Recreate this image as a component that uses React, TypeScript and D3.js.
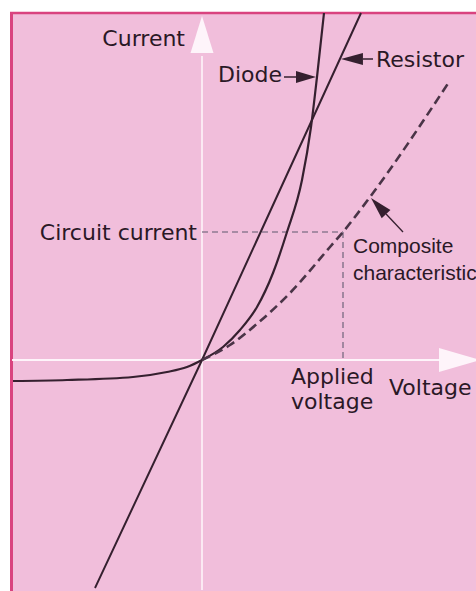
import React, { Component } from 'react';
import * as d3 from 'd3';

// readings, 1 unit = one small step of voltage / current
const diodeV = [-4.725, -3.375, -1.725, -0.875, -0.375, 0, 0.525, 0.95, 1.375, 1.775, 2.125, 2.5, 2.725, 2.875, 3.05];
const diodeI = [-0.525, -0.5, -0.425, -0.3, -0.175, 0, 0.325, 0.75, 1.325, 2.175, 3.2, 4.5, 5.825, 7.075, 8.675];

const resistorV = [-2.675, 0, 3.975];
const resistorI = [-5.7, 0, 8.675];

const compositeV = [0, 0.7, 1.4, 2.2, 3.2, 3.525, 4.2, 6.175];
const compositeI = [0, 0.375, 0.925, 1.675, 2.825, 3.2, 4.075, 6.95];

// operating point
const opV = 3.525;
const opI = 3.2;

const W = 476, H = 591;

class App extends Component {
    svgRef = React.createRef<SVGSVGElement>();

    componentDidMount() {
        this.drawChart();
    }

    drawChart() {
        var svg = d3.select(this.svgRef.current);
        svg.selectAll('*').remove();

        var x = d3.scaleLinear().domain([-4.75, 6.85]).range([12, 476]);
        var y = d3.scaleLinear().domain([-5.75, 8.675]).range([590, 13]);

        const ink = '#35202f';
        const font = '"DejaVu Sans", Verdana, sans-serif';
        const font2 = '"Liberation Sans", Arial, sans-serif';

        // background + border
        svg.append('rect').attr('x', 0).attr('y', 0).attr('width', W).attr('height', H).attr('fill', '#ffffff');
        svg.append('rect').attr('x', 11).attr('y', 12).attr('width', W - 11).attr('height', H - 12).attr('fill', '#f1bedb');
        svg.append('line').attr('x1', 11.5).attr('y1', 12).attr('x2', 11.5).attr('y2', H)
            .style('stroke', '#d9437f').style('stroke-width', 3);
        svg.append('line').attr('x1', 10).attr('y1', 13).attr('x2', W).attr('y2', 13)
            .style('stroke', '#d9437f').style('stroke-width', 2.5);

        // axes (white, with arrow heads)
        const axisCol = 'rgba(255,250,253,0.9)';
        svg.append('line')
            .attr('x1', x(0)).attr('y1', y(-5.75))
            .attr('x2', x(0)).attr('y2', y(7.6))
            .style('stroke', axisCol).style('stroke-width', 1.6);
        svg.append('path')
            .attr('d', `M${x(0)},${y(8.6)} L${x(0) + 11.5},${y(7.675)} L${x(0) - 11.5},${y(7.675)} Z`)
            .attr('fill', axisCol);

        svg.append('line')
            .attr('x1', x(-4.75)).attr('y1', y(0))
            .attr('x2', x(5.95)).attr('y2', y(0))
            .style('stroke', axisCol).style('stroke-width', 1.8);
        svg.append('path')
            .attr('d', `M${x(6.95)},${y(0)} L${x(5.925)},${y(0) - 12} L${x(5.925)},${y(0) + 12} Z`)
            .attr('fill', axisCol);

        // operating point guide lines
        svg.append('line')
            .attr('x1', x(0)).attr('y1', y(opI))
            .attr('x2', x(opV)).attr('y2', y(opI))
            .style('stroke', '#8f7b92').style('stroke-width', 1.6)
            .style('stroke-dasharray', '6,4');
        svg.append('line')
            .attr('x1', x(opV)).attr('y1', y(opI))
            .attr('x2', x(opV)).attr('y2', y(0))
            .style('stroke', '#8f7b92').style('stroke-width', 1.6)
            .style('stroke-dasharray', '6,4');

        var line = d3.line<number>()
            .curve(d3.curveMonotoneX);

        // resistor
        svg.append('path')
            .attr('d', line.x(d => x(resistorV[d])).y(d => y(resistorI[d]))(d3.range(resistorV.length)))
            .attr('fill', 'none').style('stroke', ink).style('stroke-width', 2);

        // diode
        svg.append('path')
            .attr('d', line.x(d => x(diodeV[d])).y(d => y(diodeI[d]))(d3.range(diodeV.length)))
            .attr('fill', 'none').style('stroke', ink).style('stroke-width', 2.2);

        // composite
        svg.append('path')
            .attr('d', line.x(d => x(compositeV[d])).y(d => y(compositeI[d]))(d3.range(compositeV.length)))
            .attr('fill', 'none').style('stroke', '#4a3447').style('stroke-width', 2.6)
            .style('stroke-dasharray', '9,5');

        // pointer arrows
        function arrow(x1: number, y1: number, x2: number, y2: number, len: number, half: number, w: number) {
            const a = Math.atan2(y2 - y1, x2 - x1);
            const bx = x2 - len * Math.cos(a), by = y2 - len * Math.sin(a);
            svg.append('line').attr('x1', x1).attr('y1', y1).attr('x2', bx).attr('y2', by)
                .style('stroke', ink).style('stroke-width', w);
            svg.append('path')
                .attr('d', `M${x2},${y2} L${bx + half * Math.sin(a)},${by - half * Math.cos(a)} L${bx - half * Math.sin(a)},${by + half * Math.cos(a)} Z`)
                .attr('fill', ink);
        }

        arrow(284, y(diodeI[13]), x(diodeV[13]) - 1, y(diodeI[13]), 20, 6, 1.5);
        var rTipI = 7.525;
        arrow(373, y(rTipI), x(rTipI * resistorV[2] / resistorI[2]) + 1, y(rTipI), 22, 6, 1.5);
        arrow(403, 232, x(compositeV[6]) + 1, y(compositeI[6]) + 1, 22, 6, 1.3);

        // labels
        const label = (t: string, tx: number, ty: number, size: number, anchor = 'start', fam = font) =>
            svg.append('text').attr('x', tx).attr('y', ty).text(t)
                .attr('text-anchor', anchor)
                .style('font-family', fam).style('font-size', size + 'px')
                .style('fill', '#2a1826');

        label('Current', 185, 46, 22, 'end');
        label('Diode', 218, 82, 22);
        label('Resistor', 376, 67, 22);
        label('Circuit current', x(0) - 5, y(opI) + 8, 22, 'end');
        label('Composite', 353, 253, 21, 'start', font2);
        label('characteristic', 353, 280, 21, 'start', font2);
        label('Applied', 291, 384, 22);
        label('voltage', 291, 409, 22);
        label('Voltage', 389, 395, 22);
    }

    render() {
        return (
            <div style={{ position: 'absolute', left: 0, top: 0 }}>
                <svg ref={this.svgRef} width={W} height={H} style={{ display: 'block' }}></svg>
            </div>
        );
    }
}

export default App;
